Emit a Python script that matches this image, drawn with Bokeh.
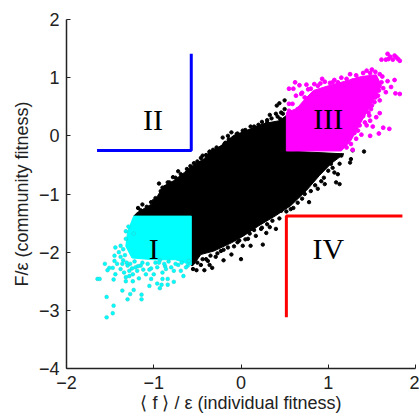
from bokeh.plotting import figure
from bokeh.embed import file_html
from bokeh.resources import INLINE
from bokeh.core.properties import value
from bokeh.models import FixedTicker

x_ticks = [-2, -1, 0, 1, 2]
y_ticks = [-4, -3, -2, -1, 0, 1, 2]

# dense black mass: outline
black_mass_x = [-1.23,-1.19,-1.11,-1.00,-0.94,-0.88,-0.77,-0.65,-0.55,-0.42,-0.37,-0.23,-0.09,0.11,0.26,0.44,0.52,
                0.52,1.18,1.03,0.90,0.75,0.57,0.40,0.20,0.03,-0.11,-0.31,-0.46,-0.55,-0.57,-0.57]
black_mass_y = [-1.38,-1.32,-1.25,-1.15,-0.99,-0.86,-0.77,-0.63,-0.51,-0.39,-0.29,-0.17,0.00,0.12,0.21,0.26,0.35,
                -0.26,-0.31,-0.48,-0.68,-0.94,-1.20,-1.37,-1.55,-1.72,-1.84,-1.98,-2.04,-2.23,-2.23,-1.38]
black_x = [0.50,0.44,0.41,0.33,0.40,0.46,0.50,0.45,0.11,0.02,-0.04,-0.11,-0.15,-0.21,-0.19,-0.22,-0.36,0.00,-0.08,
           -1.13,-1.18,-0.94,-0.84,-0.72,-1.00,-0.54,-0.44,-0.36,-0.78,-0.90,
           0.00,0.25,0.40,0.33,0.29,0.23,0.17,0.11,0.02,-0.11,-0.20,-0.29,-0.33,-0.36,-0.42,-0.46,-0.51,-0.55,-0.40,-0.23,-0.04,0.08,0.46,0.57,
           1.41,1.26,1.25,1.15,1.13,1.07,1.11,1.09,1.13,0.96,0.78,0.88,0.73,1.28,1.03,
           -1.15,-1.08,-1.03,-0.98,-0.92,-0.87,-0.82,-0.75,-0.69,-0.62,-0.58,-0.50,-0.46,-0.40,-0.32,-0.28,-0.18,-0.14,-0.05,0.05,0.15,0.20,0.30,0.35,0.42,0.48,0.30,0.24,
           1.05,1.00,0.95,0.92,0.85,0.80,0.70,0.65,0.60,0.52,0.44,0.36,0.30,0.24,0.15,0.10,0.05,-0.02,-0.08,-0.15,-0.20,-0.27,-0.35,-0.38,-0.44,-0.50]
black_y = [0.61,0.56,0.52,0.36,0.38,0.40,0.46,0.29,0.16,0.09,0.04,0.06,0.00,-0.03,-0.14,-0.20,-0.28,0.00,-0.03,
           -1.18,-1.24,-0.82,-0.80,-0.61,-1.12,-0.47,-0.34,-0.27,-0.71,-0.89,
           -2.12,-1.87,-1.60,-1.57,-1.67,-1.60,-1.72,-1.89,-1.89,-2.04,-2.14,-2.08,-2.27,-2.22,-2.31,-2.22,-2.31,-2.29,-2.12,-1.98,-1.83,-1.77,-1.29,-1.26,
           -0.27,-0.40,-0.46,-0.34,-0.48,-0.63,-0.66,-0.80,-0.83,-0.83,-1.14,-0.91,-1.00,-0.25,-0.48,
           -1.28,-1.22,-1.14,-1.07,-0.95,-0.88,-0.80,-0.72,-0.66,-0.57,-0.52,-0.44,-0.38,-0.33,-0.24,-0.20,-0.12,-0.06,0.03,0.10,0.16,0.19,0.27,0.30,0.33,0.38,0.23,0.24,
           -0.55,-0.60,-0.72,-0.78,-0.85,-0.95,-1.08,-1.15,-1.24,-1.30,-1.42,-1.46,-1.52,-1.58,-1.62,-1.68,-1.78,-1.80,-1.90,-1.92,-1.96,-2.02,-2.06,-2.15,-2.12,-2.18]

# quadrant I (cyan)
cyan_mass_x = [-1.23,-0.57,-0.57,-0.75,-1.00,-1.25,-1.32,-1.30]
cyan_mass_y = [-1.38,-1.38,-2.22,-2.13,-2.13,-2.10,-1.90,-1.65]
cyan_x = [-1.645,-1.62,-1.54,-1.46,-1.47,-1.54,-1.36,-1.30,-1.27,-1.23,-1.14,-1.14,-1.05,-0.96,-0.93,-0.91,-0.84,-0.84,-0.77,-0.66,
          -0.90,-1.03,-1.17,-1.24,-1.32,-1.32,-1.46,-1.44,-1.47,-1.51,-1.56,-1.53,-1.45,-1.45,-1.38,-1.42,-1.44,-1.38,-1.32,-1.32,-1.29,-1.23,
          -1.38,-1.34,-1.28,-1.24,-1.19,-1.09,-1.00,-0.90,-0.77,-0.69,-0.61,-0.80,-0.96,-1.15,-1.30,-1.36,-1.25,-1.12,-0.87,-0.72,
          -1.35,-1.31,-1.27,-1.22,-1.18,-1.13,-1.07,-1.03,-0.98,-0.93,-0.88,-0.83,-0.75,-0.68,-0.63,-0.60,-1.28,-1.21,-1.05,-0.94,-0.86,-1.40,-1.35,-1.33]
cyan_y = [-2.46,-2.46,-2.77,-2.92,-3.05,-3.12,-2.66,-2.81,-2.72,-2.65,-2.73,-2.81,-2.58,-2.54,-2.62,-2.56,-2.46,-2.56,-2.51,-2.41,
          -2.46,-2.46,-2.45,-2.50,-2.43,-2.50,-2.47,-2.38,-2.27,-2.27,-2.20,-2.31,-2.15,-2.06,-2.08,-2.20,-1.92,-1.89,-1.77,-1.64,-1.56,-1.68,
          -2.29,-2.35,-2.41,-2.38,-2.32,-2.38,-2.38,-2.35,-2.32,-2.32,-2.23,-2.26,-2.26,-2.23,-2.23,-2.20,-2.28,-2.30,-2.24,-2.22,
          -2.14,-2.18,-2.20,-2.16,-2.24,-2.18,-2.20,-2.28,-2.18,-2.14,-2.20,-2.16,-2.20,-2.18,-2.26,-2.15,-2.32,-2.26,-2.30,-2.18,-2.29,-2.00,-1.95,-2.05]

# quadrant III (magenta)
magenta_mass_x = [0.52,1.15,1.26,1.40,1.52,1.61,1.55,1.38,1.22,1.00,0.83,0.72,0.64,0.52]
magenta_mass_y = [-0.26,-0.26,-0.08,0.30,0.61,0.86,1.05,1.02,0.95,0.86,0.78,0.61,0.47,0.40]
magenta_x = [1.68,1.61,1.66,1.71,1.76,1.80,1.82,1.74,1.69,1.78,
             0.62,0.55,0.60,0.67,0.75,0.80,0.84,0.91,0.63,0.69,0.75,0.73,0.55,0.59,0.55,0.65,0.73,0.80,
             1.11,1.21,1.28,1.34,1.40,1.48,1.54,1.59,1.52,1.61,1.68,1.76,1.63,1.66,1.72,1.77,1.82,1.57,1.59,1.53,1.49,1.47,1.59,1.55,1.48,1.42,1.42,1.44,1.51,1.63,1.70,1.58,1.48,1.38,1.32,1.26,1.21,1.28,1.34,
             0.96,1.02,1.07,1.15,1.25,1.32,1.44,1.50,1.62,1.58,1.54,1.50,1.46,1.40,1.36,1.30,1.22,0.70,0.77,0.88,0.93,1.05]
magenta_y = [1.41,1.31,1.31,1.36,1.38,1.32,1.29,1.31,1.32,1.35,
             0.92,0.81,0.81,0.87,0.88,0.81,0.89,0.90,0.69,0.72,0.58,0.66,0.55,0.55,0.43,0.46,0.46,0.63,
             0.92,0.98,0.95,0.98,1.08,1.08,1.10,1.06,0.96,0.92,0.94,0.96,0.82,0.75,0.84,0.73,0.72,0.69,0.61,0.58,0.46,0.35,0.39,0.32,0.26,0.23,0.43,0.18,0.16,0.14,0.12,0.04,0.00,0.02,-0.05,-0.14,-0.20,-0.24,0.09,
             0.93,0.91,0.96,1.00,1.06,1.04,1.12,1.14,1.02,0.78,0.66,0.52,0.40,0.34,0.18,0.05,-0.10,0.74,0.80,0.86,0.98,0.92]

# quadrant frames
blue_x = [-1.65,-0.57,-0.57]
blue_y = [-0.25,-0.25,1.41]
red_x = [1.85,0.52,0.52]
red_y = [-1.38,-1.38,-3.12]

quad_names = ["I", "II", "III", "IV"]
quad_x = [-1.0, -1.01, 1.0, 1.0]
quad_y = [-1.93, 0.28, 0.29, -1.93]

p = figure(width=419, height=415, x_range=(-2, 2), y_range=(-4, 2),
           output_backend="svg", toolbar_location=None,
           min_border_left=66, min_border_right=4, min_border_top=19, min_border_bottom=47)
p.grid.visible = False
p.outline_line_color = None
p.background_fill_color = "white"

p.patch(black_mass_x, black_mass_y, color="black", line_width=1)
p.scatter(black_x, black_y, size=3.4, color="black")
p.patch(cyan_mass_x, cyan_mass_y, color="#00ffff", line_width=1)
p.scatter(cyan_x, cyan_y, size=3.8, fill_color="#00ffff", line_color="#30c8c8", line_width=0.5)
p.patch(magenta_mass_x, magenta_mass_y, color="#ff00ff", line_width=1)
p.scatter(magenta_x, magenta_y, size=3.8, color="#ff00ff")

p.line(blue_x, blue_y, line_color="#0000ff", line_width=3)
p.line(red_x, red_y, line_color="#ff0000", line_width=3)

p.text(quad_x, quad_y, text=quad_names, text_font=value("Liberation Serif"), text_font_size="30px",
       text_align="center", text_baseline="middle", text_color="black")

for ax, ticks in ((p.xaxis[0], x_ticks), (p.yaxis[0], y_ticks)):
    ax.ticker = FixedTicker(ticks=ticks)
    ax.major_label_overrides = {t: str(t).replace("-", "\u2212") for t in ticks}
    ax.minor_tick_line_color = None
    ax.major_tick_in = 4
    ax.major_tick_out = 0
    ax.axis_line_color = "#222222"
    ax.major_tick_line_color = "#222222"
    ax.axis_line_width = 1.5
    ax.major_tick_line_width = 1
    ax.major_label_text_font = "Liberation Sans"
    ax.major_label_text_font_size = "18px"
    ax.major_label_text_color = "#222222"
    ax.axis_label_text_font = "Liberation Sans"
    ax.axis_label_text_font_size = "18px"
    ax.axis_label_text_font_style = "normal"
    ax.axis_label_text_color = "#222222"

p.xaxis[0].axis_label = "\u27e8 f \u27e9 / \u03b5 (individual fitness)"
p.yaxis[0].axis_label = "F/\u03b5 (community fitness)"
p.xaxis[0].major_label_standoff = 7
p.xaxis[0].axis_label_standoff = 1
p.yaxis[0].major_label_standoff = 7
p.yaxis[0].axis_label_standoff = 4

open("out.html", "w").write(file_html(p, INLINE))
